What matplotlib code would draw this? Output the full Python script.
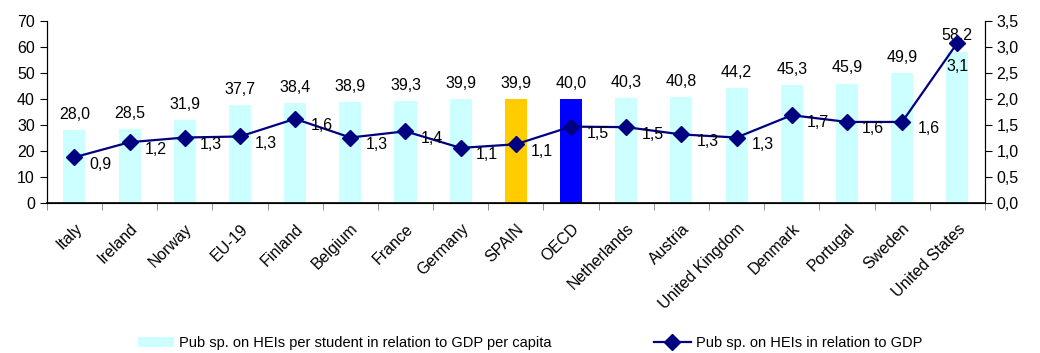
import matplotlib
matplotlib.use("Agg")
import matplotlib.pyplot as plt
from matplotlib.ticker import FixedLocator, FuncFormatter

plt.rcParams['font.family'] = ['Liberation Sans', 'DejaVu Sans']

countries = ["Italy", "Ireland", "Norway", "EU-19", "Finland", "Belgium", "France",
             "Germany", "SPAIN", "OECD", "Netherlands", "Austria", "United Kingdom",
             "Denmark", "Portugal", "Sweden", "United States"]
per_student = [28.0, 28.5, 31.9, 37.7, 38.4, 38.9, 39.3, 39.9, 39.9, 40.0,
               40.3, 40.8, 44.2, 45.3, 45.9, 49.9, 58.2]
pct_gdp = [0.88, 1.17, 1.26, 1.28, 1.62, 1.26, 1.38, 1.06, 1.13, 1.47,
           1.46, 1.32, 1.26, 1.69, 1.56, 1.56, 3.08]

bar_colors = []
for c in countries:
    if c == "SPAIN":
        bar_colors.append("#FFCC00")
    elif c == "OECD":
        bar_colors.append("#0000FF")
    else:
        bar_colors.append("#CCFFFF")

def comma(v, pos=None):
    return f"{v:.1f}".replace(".", ",")

fs = 11.5

fig = plt.figure(figsize=(10.4, 3.53), dpi=100)
ax = fig.add_axes([0.045, 0.425, 0.902, 0.515])
ax2 = ax.twinx()

x = list(range(len(countries)))
ax.bar(x, per_student, width=0.4, color=bar_colors,
       label="Pub sp. on HEIs per student in relation to GDP per capita")
for xi, v in zip(x, per_student):
    ax.annotate(comma(v), (xi, v), xytext=(0, 6), textcoords="offset points",
                ha="center", va="bottom", fontsize=fs)

ax2.plot(x, pct_gdp, color="#000080", lw=1.6, marker="D", ms=8,
         label="Pub sp. on HEIs in relation to GDP")
for xi, v in zip(x, pct_gdp):
    # the last point sits against the right axis, so its label goes below
    off = (0, -17) if xi == x[-1] else (11, -5)
    ax2.annotate(comma(v), (xi, v), xytext=off, textcoords="offset points",
                 ha="left" if xi != x[-1] else "center", va="center", fontsize=fs)

ax.set_xlim(-0.5, len(countries) - 0.5)
ax.set_ylim(0, 70)
ax.set_yticks(range(0, 71, 10))
ax2.set_ylim(0, 3.5)
ax2.set_yticks([i * 0.5 for i in range(8)])
ax2.yaxis.set_major_formatter(FuncFormatter(comma))

ax.set_xticks(x)
ax.set_xticklabels(countries, rotation=45, ha="right", rotation_mode="anchor", fontsize=fs)
ax.tick_params(axis="x", which="major", length=0, pad=13)
ax.xaxis.set_minor_locator(FixedLocator([i - 0.5 for i in range(len(countries) + 1)]))
ax.tick_params(axis="x", which="minor", length=5, color="#808080")
ax.tick_params(axis="y", labelsize=fs, length=5)
ax2.tick_params(axis="y", labelsize=fs, length=5)

for a in (ax, ax2):
    a.spines["top"].set_visible(False)
ax.spines["bottom"].set_linewidth(1.2)

h1, l1 = ax.get_legend_handles_labels()
h2, l2 = ax2.get_legend_handles_labels()
fig.legend(h1 + h2, l1 + l2, loc="lower left", bbox_to_anchor=(0.12, -0.03),
           ncol=2, frameon=False, fontsize=10.5, handlelength=2.5,
           columnspacing=7.0, handletextpad=0.35)

fig.savefig("out.png", dpi=100)
